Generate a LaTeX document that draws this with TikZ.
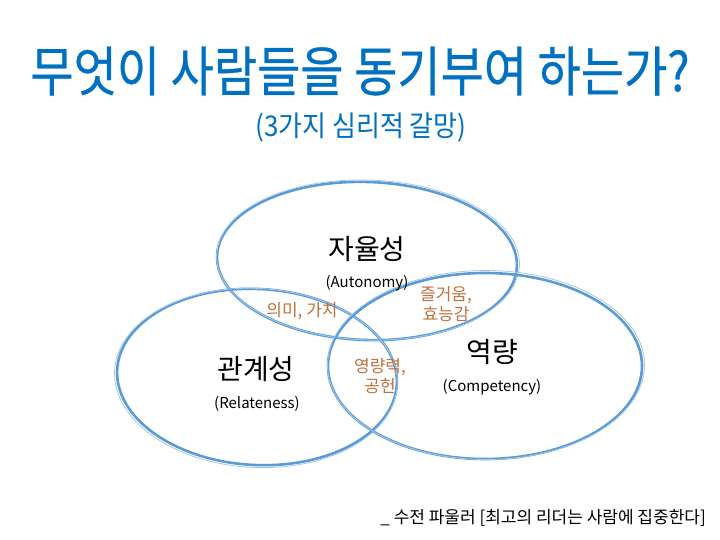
\documentclass[tikz,border=0pt]{standalone}
\usepackage{fontspec}
\setmainfont{Noto Sans CJK KR}
\newfontfamily\ttlfont[FakeBold=0.6]{Noto Sans CJK KR}
\definecolor{ttlblue}{HTML}{0070C0}
\definecolor{ringblue}{HTML}{5B9BD5}
\definecolor{rust}{HTML}{C0703A}

\begin{document}
\begin{tikzpicture}[x=1pt, y=-1pt,
  ring/.style={draw=ringblue, line width=2.6pt},
  ringb/.style={draw=ringblue!55, line width=0.8pt},
  need/.style={font=\fontsize{28}{30}\selectfont, inner sep=0pt},
  eng/.style={font=\fontsize{15}{17}\selectfont, inner sep=0pt},
  mix/.style={font=\fontsize{17}{20}\selectfont, text=rust, align=center, inner sep=0pt}]

\useasboundingbox (0,0) rectangle (720,540);

% title
\node[text=ttlblue, font=\ttlfont\fontsize{47}{50}\selectfont, inner sep=0pt, yscale=1.15] (ttl) at (360,71) {무엇이 사람들을 동기부여 하는가?};
\node[text=ttlblue, font=\fontsize{26}{28}\selectfont, inner sep=0pt, yscale=1.1] (sub) at (361,127) {(3가지 심리적 갈망)};

% three rings
\draw[ring, rotate around={-2:(367,261)}] (367,261) ellipse [x radius=150, y radius=79];
\draw[ringb, rotate around={-2:(367,261)}] (368,260) ellipse [x radius=151.5, y radius=80];
\draw[ring, rotate around={-3:(257,377)}] (257,377) ellipse [x radius=140, y radius=88];
\draw[ringb, rotate around={-3:(257,377)}] (256,378) ellipse [x radius=141.5, y radius=89.5];
\draw[ring] (485,366) ellipse [x radius=157, y radius=93];
\draw[ringb] (486,365) ellipse [x radius=158.5, y radius=94.5];

% needs
\node[need] (auto) at (367,249) {자율성};
\node[eng] (autoe) at (367,283) {(Autonomy)};
\node[need] (rel) at (256,369) {관계성};
\node[eng] (rele) at (257,404) {(Relateness)};
\node[need] (comp) at (492,352) {역량};
\node[eng] (compe) at (492,387) {(Competency)};

% overlaps
\node[mix] (ar) at (302,311) {의미, 가치};
\node[mix] (ac) at (446,304) {즐거움,\\효능감};
\node[mix] (rc) at (380,376) {영량력,\\공헌};

% source
\node[font=\fontsize{17}{19}\selectfont, anchor=east, inner sep=0pt] (src) at (706,518) {\_ 수전 파울러 [최고의 리더는 사람에 집중한다]};
\end{tikzpicture}
\end{document}
